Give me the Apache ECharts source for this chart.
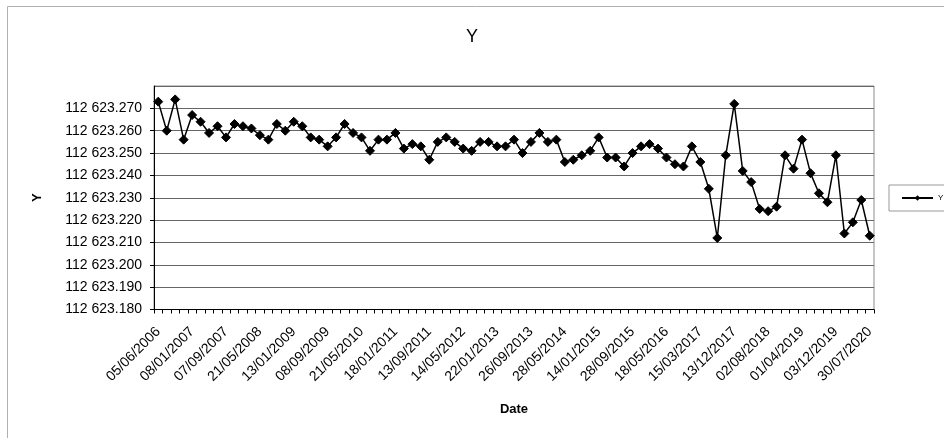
<!DOCTYPE html>
<html>
<head>
<meta charset="utf-8">
<script src="https://cdn.jsdelivr.net/npm/echarts@6/dist/echarts.min.js"></script>
<style>
html,body{margin:0;padding:0;background:#fff;}
#chart{width:944px;height:438px;}
</style>
</head>
<body>
<div id="chart"></div>
<script>
const dates = [
  '05/06/2006','29/07/2006','21/09/2006','14/11/2006',
  '08/01/2007','09/03/2007','08/05/2007','07/07/2007',
  '07/09/2007','10/11/2007','13/01/2008','17/03/2008',
  '21/05/2008','19/07/2008','16/09/2008','14/11/2008',
  '13/01/2009','13/03/2009','11/05/2009','10/07/2009',
  '08/09/2009','11/11/2009','13/01/2010','18/03/2010',
  '21/05/2010','20/07/2010','19/09/2010','18/11/2010',
  '18/01/2011','18/03/2011','16/05/2011','15/07/2011',
  '13/09/2011','13/11/2011','13/01/2012','14/03/2012',
  '14/05/2012','17/07/2012','18/09/2012','20/11/2012',
  '22/01/2013','24/03/2013','25/05/2013','26/07/2013',
  '26/09/2013','26/11/2013','26/01/2014','28/03/2014',
  '28/05/2014','25/07/2014','21/09/2014','18/11/2014',
  '14/01/2015','19/03/2015','22/05/2015','25/07/2015',
  '28/09/2015','25/11/2015','23/01/2016','21/03/2016',
  '18/05/2016','02/08/2016','16/10/2016','31/12/2016',
  '15/03/2017','22/05/2017','30/07/2017','06/10/2017',
  '13/12/2017','10/02/2018','09/04/2018','06/06/2018',
  '02/08/2018','01/10/2018','01/12/2018','30/01/2019',
  '01/04/2019','01/06/2019','02/08/2019','02/10/2019',
  '03/12/2019','02/02/2020','01/04/2020','31/05/2020',
  '30/07/2020'
];
const yValues = [
  112623.273,112623.260,112623.274,112623.256,112623.267,112623.264,112623.259,112623.262,
  112623.257,112623.263,112623.262,112623.261,112623.258,112623.256,112623.263,112623.260,
  112623.264,112623.262,112623.257,112623.256,112623.253,112623.257,112623.263,112623.259,
  112623.257,112623.251,112623.256,112623.256,112623.259,112623.252,112623.254,112623.253,
  112623.247,112623.255,112623.257,112623.255,112623.252,112623.251,112623.255,112623.255,
  112623.253,112623.253,112623.256,112623.250,112623.255,112623.259,112623.255,112623.256,
  112623.246,112623.247,112623.249,112623.251,112623.257,112623.248,112623.248,112623.244,
  112623.250,112623.253,112623.254,112623.252,112623.248,112623.245,112623.244,112623.253,
  112623.246,112623.234,112623.212,112623.249,112623.272,112623.242,112623.237,112623.225,
  112623.224,112623.226,112623.249,112623.243,112623.256,112623.241,112623.232,112623.228,
  112623.249,112623.214,112623.219,112623.229,112623.213
];
const chartTitle = 'Y';
const seriesName = 'Y';
const xAxisName = 'Date';
const yAxisName = 'Y';
const yMin = 112623.18, yMax = 112623.28, yStep = 0.01;

function fmtY(v) {
  const s = v.toFixed(3);
  const parts = s.split('.');
  return parts[0].replace(/\B(?=(\d{3})+(?!\d))/g, ' ') + '.' + parts[1];
}

const chart = echarts.init(document.getElementById('chart'), null, {renderer: 'canvas'});
const FONT = '"Liberation Sans", Arial, sans-serif';
chart.setOption({
  animation: false,
  backgroundColor: '#fff',
  textStyle: {fontFamily: FONT},
  graphic: [{
    type: 'rect', silent: true, z: -1,
    shape: {x: 7.5, y: 6.5, width: 960, height: 460},
    style: {fill: 'none', stroke: '#b0b0b0', lineWidth: 1}
  }],
  title: {
    text: chartTitle, left: 'center', top: 23,
    textStyle: {fontFamily: FONT, fontSize: 18, fontWeight: 'normal', color: '#000'}
  },
  legend: {
    data: [seriesName], left: 889, top: 185, orient: 'vertical',
    padding: [9, 14, 9, 12], itemWidth: 31, itemHeight: 7, itemGap: 4,
    borderColor: '#999', borderWidth: 1,
    textStyle: {fontFamily: FONT, fontSize: 8, color: '#000'}
  },
  grid: {
    left: 154, right: 70, top: 86, bottom: 128.5,
    show: true, borderColor: '#8c8c8c', borderWidth: 1, backgroundColor: '#fff'
  },
  xAxis: {
    type: 'category', data: dates, boundaryGap: true,
    name: xAxisName, nameLocation: 'middle', nameGap: 93,
    nameTextStyle: {fontFamily: FONT, fontSize: 13, fontWeight: 'bold', color: '#000'},
    axisLine: {lineStyle: {color: '#000', width: 1}},
    axisTick: {show: true, interval: 0, length: 4, lineStyle: {color: '#000'}},
    axisLabel: {interval: 3, rotate: 45, fontFamily: FONT, fontSize: 14, color: '#000', margin: 20},
    splitLine: {show: false}
  },
  yAxis: {
    type: 'value', min: yMin, max: yMax, interval: yStep,
    name: yAxisName, nameLocation: 'middle', nameGap: 110, nameRotate: 90,
    nameTextStyle: {fontFamily: FONT, fontSize: 13, fontWeight: 'bold', color: '#000'},
    axisLine: {show: true, lineStyle: {color: '#000', width: 1}},
    axisTick: {show: true, length: 4, lineStyle: {color: '#000'}},
    axisLabel: {showMaxLabel: false, formatter: fmtY, fontFamily: FONT, fontSize: 14, color: '#000', margin: 12},
    splitLine: {show: true, lineStyle: {color: '#666', width: 1}}
  },
  series: [{
    name: seriesName, type: 'line', data: yValues,
    symbol: 'diamond', symbolSize: 9, showAllSymbol: true,
    lineStyle: {color: '#000', width: 1.5},
    itemStyle: {color: '#000', borderColor: '#000'}
  }]
});
</script>
</body>
</html>
